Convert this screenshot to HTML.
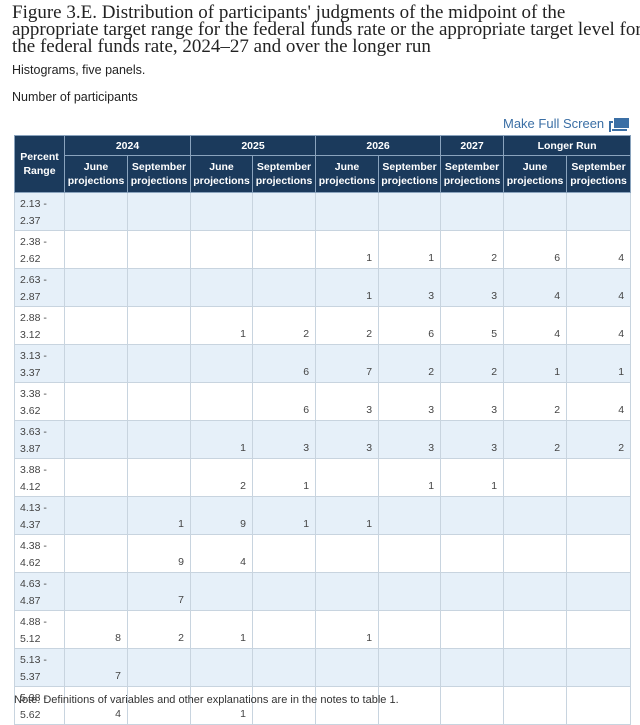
<!DOCTYPE html>
<html><head><meta charset="utf-8">
<style>
body{margin:0;width:640px;height:711px;background:#fff;font-family:"Liberation Sans",Arial,sans-serif;position:relative;overflow:hidden}
#title{position:absolute;left:12px;top:4px;width:625px;font-family:"Liberation Serif",serif;font-size:19px;line-height:17px;color:#222;white-space:nowrap}
#sub{position:absolute;left:12px;top:63px;font-size:12.5px;color:#222}
#nump{position:absolute;left:12px;top:90px;font-size:12.5px;color:#222}
#fs{position:absolute;left:503px;top:116px;font-size:13px;color:#3b6fa5}
#fsicon{position:absolute;left:609px;top:118px;width:20px;height:14px}
table{position:absolute;left:14px;top:135px;border-collapse:collapse;table-layout:fixed;width:616px}
th{background:#1b3a5c;color:#fff;font-size:10.5px;font-weight:bold;border:1px solid #8aa3bd;padding:0;line-height:14px}
td{border:1px solid #c8d4df;font-size:10.5px;color:#444;padding:0 6px 3px 6px;vertical-align:bottom;text-align:right;line-height:14px;height:35.5px;box-sizing:border-box}
td.rg{text-align:left;padding:3px 4px 0 5px;vertical-align:top;color:#444;line-height:17px}
tr.alt td{background:#e6f0f9}
#note{position:absolute;left:14px;top:694px;font-size:11px;color:#333}
</style></head><body>
<div id="title">Figure 3.E. Distribution of participants' judgments of the midpoint of the<br>appropriate target range for the federal funds rate or the appropriate target level for<br>the federal funds rate, 2024–27 and over the longer run</div>
<div id="sub">Histograms, five panels.</div>
<div id="nump">Number of participants</div>
<div id="fs">Make Full Screen</div>
<svg id="fsicon" viewBox="0 0 20 14"><path d="M1 14V4h3" stroke="#3b6fa5" stroke-width="2" fill="none"/><rect x="5" y="0" width="15" height="10" fill="#3b6fa5"/><rect x="3" y="11" width="15" height="2" fill="#3b6fa5"/></svg>
<table id="tbl">
<colgroup><col style="width:50px"><col style="width:63px"><col style="width:63px"><col style="width:62px"><col style="width:63px"><col style="width:63px"><col style="width:62px"><col style="width:63px"><col style="width:63px"><col style="width:64px"></colgroup>
<thead>
<tr style="height:20px"><th rowspan="2">Percent<br>Range</th>
<th colspan="2">2024</th>
<th colspan="2">2025</th>
<th colspan="2">2026</th>
<th>2027</th>
<th colspan="2">Longer Run</th></tr>
<tr style="height:37px" id="subhead"></tr>
</thead>
<tbody id="body"></tbody>
</table>
<div id="note">Note: Definitions of variables and other explanations are in the notes to table 1.</div>
<script>
const ranges=["2.13 -|2.37","2.38 -|2.62","2.63 -|2.87","2.88 -|3.12","3.13 -|3.37","3.38 -|3.62","3.63 -|3.87","3.88 -|4.12","4.13 -|4.37","4.38 -|4.62","4.63 -|4.87","4.88 -|5.12","5.13 -|5.37","5.38 -|5.62"];
const columns=["June","September","June","September","June","September","September","June","September"];
const y2024June=[0,0,0,0,0,0,0,0,0,0,0,8,7,4];
const y2024Sep=[0,0,0,0,0,0,0,0,1,9,7,2,0,0];
const y2025June=[0,0,0,1,0,0,1,2,9,4,0,1,0,1];
const y2025Sep=[0,0,0,2,6,6,3,1,1,0,0,0,0,0];
const y2026June=[0,1,1,2,7,3,3,0,1,0,0,1,0,0];
const y2026Sep=[0,1,3,6,2,3,3,1,0,0,0,0,0,0];
const y2027Sep=[0,2,3,5,2,3,3,1,0,0,0,0,0,0];
const lrJune=[0,6,4,4,1,2,2,0,0,0,0,0,0,0];
const lrSep=[0,4,4,4,1,4,2,0,0,0,0,0,0,0];
const series=[y2024June,y2024Sep,y2025June,y2025Sep,y2026June,y2026Sep,y2027Sep,lrJune,lrSep];
const sh=document.getElementById('subhead');
columns.forEach((c,i)=>{const th=document.createElement('th');


th.innerHTML=c+'<br>projections';sh.appendChild(th);});
const body=document.getElementById('body');
ranges.forEach((r,ri)=>{const tr=document.createElement('tr');


tr.style.height='35.5px';if(ri%2===0)tr.className='alt';
const td=document.createElement('td');td.className='rg';


td.innerHTML=r.replace('|','<br>');tr.appendChild(td);
series.forEach((s,si)=>{const c=document.createElement('td');


c.textContent=s[ri]?s[ri]:'';tr.appendChild(c);});
body.appendChild(tr);});
</script>
</body></html>
